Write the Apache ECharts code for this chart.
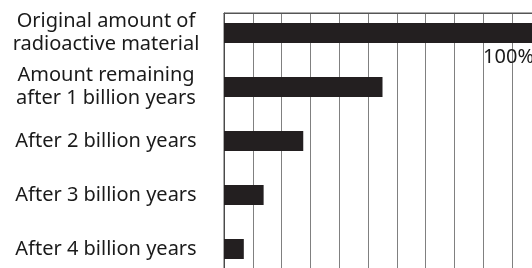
<!DOCTYPE html>
<html>
<head>
<meta charset="utf-8">
<script src="https://cdn.jsdelivr.net/npm/echarts@6/dist/echarts.min.js"></script>
<style>
html,body{margin:0;padding:0;background:#fff;overflow:hidden;width:532px;height:268px;}
#chart{width:560px;height:290px;}
</style>
</head>
<body>
<div id="chart"></div>
<script>
const categories = [
  'Original amount of\nradioactive material',
  'Amount remaining\nafter 1 billion years',
  'After 2 billion years',
  'After 3 billion years',
  'After 4 billion years'
];
const percentRemaining = [100, 50, 25, 12.5, 6.25];
const labelledIndex = 0;

const FONT = 'Noto Sans';
const chart = echarts.init(document.getElementById('chart'), null, {renderer: 'canvas'});

const barData = percentRemaining.map((v, i) => i === labelledIndex ? {
  value: v,
  label: {
    show: true,
    position: ['100%', '100%'],
    align: 'right',
    verticalAlign: 'top',
    offset: [-7, 4],
    formatter: p => p.value + '%',
    fontFamily: FONT,
    fontSize: 20,
    color: '#1a1a1a'
  }
} : v);

chart.setOption({
  animation: false,
  backgroundColor: '#ffffff',
  grid: [
    {left: 224, top: 13, width: 317, height: 270, show: true, outerBoundsMode: 'none',
     borderColor: '#555555', borderWidth: 1, backgroundColor: 'transparent'},
    {left: 224, top: 6, width: 317, height: 270, outerBoundsMode: 'none'}
  ],
  xAxis: [
    {
      gridIndex: 0, type: 'value', min: 0, max: 11, interval: 1, position: 'top',
      axisLine: {show: true, onZero: false, lineStyle: {color: '#555555', width: 1}},
      axisTick: {show: false}, axisLabel: {show: false},
      splitLine: {show: true, lineStyle: {color: '#808080', width: 1}}
    },
    {
      gridIndex: 1, type: 'value', min: 0, max: 100,
      axisLine: {show: false}, axisTick: {show: false}, axisLabel: {show: false},
      splitLine: {show: false}
    }
  ],
  yAxis: [
    {
      gridIndex: 0, type: 'value', min: 0, max: 1,
      axisLine: {show: true, onZero: false, lineStyle: {color: '#4a4a4a', width: 1}},
      axisTick: {show: false}, axisLabel: {show: false}, splitLine: {show: false}
    },
    {
      gridIndex: 1, type: 'category', data: categories, inverse: true,
      axisLine: {show: false}, axisTick: {show: false}, splitLine: {show: false},
      axisLabel: {
        margin: 118, align: 'center', fontFamily: FONT, fontSize: 20,
        lineHeight: 23, color: '#1a1a1a'
      }
    }
  ],
  series: [{
    type: 'bar', xAxisIndex: 1, yAxisIndex: 1,
    data: barData, barWidth: 20,
    itemStyle: {color: '#231f20'}
  }]
});
</script>
</body>
</html>
